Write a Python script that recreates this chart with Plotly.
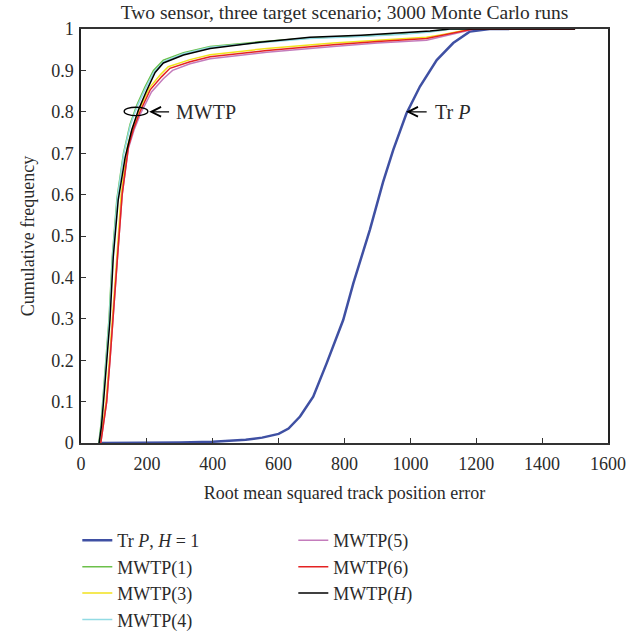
import plotly.graph_objects as go

# ---- data ----
trp_x = [60, 200, 300, 400, 450, 500, 550, 600, 630, 665, 705, 746, 796, 827, 877, 917, 948, 988, 1029, 1080, 1130, 1181, 1241, 1300]
trp_y = [0, 0.0, 0.001, 0.003, 0.005, 0.008, 0.013, 0.022, 0.035, 0.064, 0.112, 0.193, 0.297, 0.386, 0.515, 0.630, 0.708, 0.796, 0.861, 0.925, 0.966, 0.994, 1.0, 1.0]

m1_x = [54, 60, 66, 75, 85, 95, 109, 129, 149, 169, 194, 220, 250, 311, 392, 543, 695, 850, 968, 1060, 1120, 1500]
m1_y = [0, 0.04, 0.1, 0.2, 0.3, 0.45, 0.59, 0.70, 0.77, 0.815, 0.86, 0.90, 0.925, 0.943, 0.958, 0.969, 0.978, 0.983, 0.988, 0.994, 1.0, 1.0]

m3_x = [58, 66, 76, 86, 96, 108, 122, 141, 157, 176, 206, 240, 265, 331, 392, 564, 766, 900, 1049, 1100, 1150, 1185, 1500]
m3_y = [0, 0.04, 0.1, 0.2, 0.3, 0.44, 0.6, 0.716, 0.762, 0.803, 0.856, 0.889, 0.909, 0.926, 0.938, 0.953, 0.966, 0.973, 0.980, 0.987, 0.994, 1.0, 1.0]

m4_x = [55, 61, 67, 76, 86, 96, 110, 130, 150, 170, 196, 222, 252, 311, 392, 543, 695, 850, 968, 1060, 1125, 1500]
m4_y = [0, 0.04, 0.1, 0.2, 0.3, 0.45, 0.59, 0.70, 0.768, 0.812, 0.857, 0.897, 0.922, 0.940, 0.956, 0.967, 0.977, 0.982, 0.987, 0.993, 1.0, 1.0]

m5_x = [60, 68, 78, 88, 98, 110, 125, 144, 161, 181, 214, 250, 278, 331, 392, 564, 766, 900, 1049, 1100, 1150, 1195, 1500]
m5_y = [0, 0.04, 0.1, 0.2, 0.3, 0.44, 0.6, 0.712, 0.756, 0.796, 0.848, 0.880, 0.900, 0.916, 0.928, 0.944, 0.958, 0.966, 0.973, 0.982, 0.992, 1.0, 1.0]

m6_x = [60, 68, 78, 88, 98, 110, 125, 144, 160, 179, 210, 245, 270, 331, 392, 564, 766, 900, 1049, 1100, 1150, 1190, 1500]
m6_y = [0, 0.04, 0.1, 0.2, 0.3, 0.44, 0.6, 0.716, 0.76, 0.80, 0.853, 0.885, 0.905, 0.921, 0.933, 0.948, 0.962, 0.970, 0.977, 0.985, 0.993, 1.0, 1.0]

mh_x = [55, 62, 68, 78, 88, 98, 113, 134, 154, 174, 199, 225, 250, 311, 392, 543, 695, 850, 968, 1060, 1120, 1500]
mh_y = [0, 0.04, 0.096, 0.2, 0.297, 0.45, 0.587, 0.690, 0.756, 0.804, 0.851, 0.895, 0.918, 0.937, 0.953, 0.968, 0.980, 0.985, 0.990, 0.995, 1.0, 1.0]

x_ticks = [0, 200, 400, 600, 800, 1000, 1200, 1400, 1600]
y_ticks = [0, 0.1, 0.2, 0.3, 0.4, 0.5, 0.6, 0.7, 0.8, 0.9, 1]
y_tick_labels = ["0", "0.1", "0.2", "0.3", "0.4", "0.5", "0.6", "0.7", "0.8", "0.9", "1"]

series = [
    # name, x, y, color, width, legendrank
    ("Tr <i>P</i>, <i>H</i> = 1", trp_x, trp_y, "#3f50a3", 2.5, 1),
    ("MWTP(1)", m1_x, m1_y, "#6cc04a", 1.5, 3),
    ("MWTP(3)", m3_x, m3_y, "#f2e21c", 1.5, 5),
    ("MWTP(4)", m4_x, m4_y, "#92dbe4", 1.5, 7),
    ("MWTP(5)", m5_x, m5_y, "#c47cbc", 1.5, 2),
    ("MWTP(6)", m6_x, m6_y, "#e42222", 1.5, 4),
    ("MWTP(<i>H</i>)", mh_x, mh_y, "#000000", 1.5, 6),
]

FONT = "Liberation Serif"
TXT = "#2a2a2a"

fig = go.Figure()
for name, xs, ys, col, w, rank in series:
    fig.add_trace(go.Scatter(x=xs, y=ys, mode="lines", name=name,
                             line=dict(color=col, width=w),
                             legendrank=rank))

fig.update_layout(
    width=640, height=634,
    margin=dict(l=81, r=32, t=29, b=191, autoexpand=False),
    paper_bgcolor="white", plot_bgcolor="white",
    font=dict(family=FONT, size=18, color=TXT),
    title=dict(text="Two sensor, three target scenario; 3000 Monte Carlo runs",
               x=0.5, xref="paper", xanchor="center", y=1 - 12 / 634, yanchor="middle",
               font=dict(family=FONT, size=19.5, color=TXT)),
    showlegend=True,
    legend=dict(orientation="h", x=-0.007, xanchor="left", y=-0.191, yanchor="top",
                entrywidth=171, entrywidthmode="pixels",
                font=dict(family=FONT, size=18, color=TXT),
                traceorder="normal", itemwidth=30),
)
fig.update_xaxes(range=[0, 1600], tickvals=x_ticks, ticks="inside", ticklen=5,
                 tickcolor="#333", showline=True, linecolor="#333", linewidth=1.5,
                 mirror=True, showgrid=False, zeroline=False, ticklabelstandoff=4,
                 title=dict(text="Root mean squared track position error", standoff=13,
                            font=dict(size=18)),
                 tickfont=dict(size=18))
fig.update_yaxes(range=[0, 1], tickvals=y_ticks, ticktext=y_tick_labels,
                 ticks="inside", ticklen=5, ticklabelstandoff=2,
                 tickcolor="#333", showline=True, linecolor="#222", linewidth=1.5,
                 mirror=True, showgrid=False, zeroline=False,
                 title=dict(text="Cumulative frequency", standoff=12, font=dict(size=18)),
                 tickfont=dict(size=18))

# ellipse marking the MWTP bundle
fig.add_shape(type="circle", xref="x", yref="y", x0=131, x1=203, y0=0.791, y1=0.811,
              line=dict(color="black", width=1.3))

fig.add_annotation(x=207, y=0.8, ax=272, ay=0.8, xref="x", yref="y", axref="x", ayref="y",
                   showarrow=True, arrowhead=5, arrowsize=1.6, arrowwidth=1.2, text="",
                   arrowcolor="black")
fig.add_annotation(x=282, y=0.8, xref="x", yref="y", text="MWTP", showarrow=False,
                   xanchor="left", yanchor="middle", font=dict(family=FONT, size=20, color=TXT))
fig.add_annotation(x=987, y=0.8, ax=1054, ay=0.8, xref="x", yref="y", axref="x", ayref="y",
                   showarrow=True, arrowhead=5, arrowsize=1.6, arrowwidth=1.2, text="",
                   arrowcolor="black")
fig.add_annotation(x=1070, y=0.8, xref="x", yref="y", text="Tr <i>P</i>", showarrow=False,
                   xanchor="left", yanchor="middle", font=dict(family=FONT, size=20, color=TXT))

fig.write_html("out.html", config={"displayModeBar": False},
               post_script="document.body.style.margin='0';document.body.style.padding='0';")
